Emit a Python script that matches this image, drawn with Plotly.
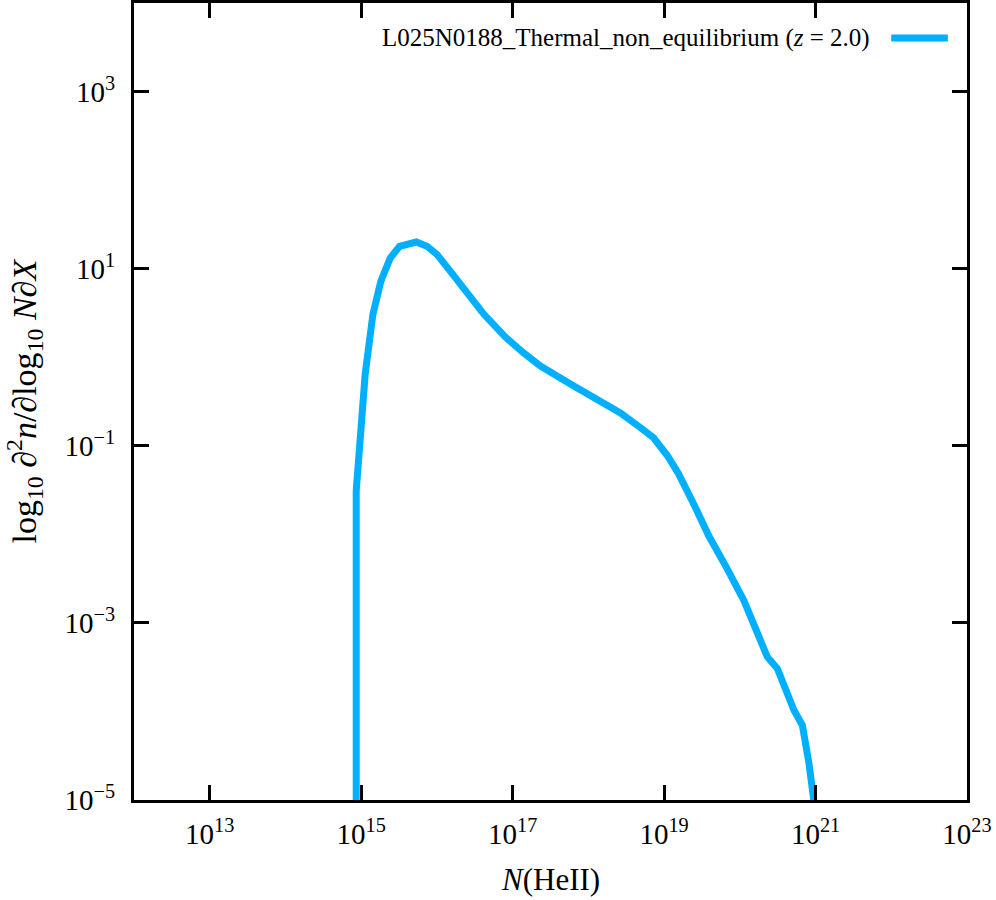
import plotly.graph_objects as go

# Column density N(HeII) [cm^-2]
N_HeII = [8.6e14, 8.6e14, 1.13e15, 1.43e15, 1.82e15, 2.42e15, 3.21e15, 5.35e15,
          7.40e15, 1.00e16, 1.50e16, 2.76e16, 4.15e16, 5.08e16, 8.02e16, 1.39e17,
          2.33e17, 5.79e17, 1.58e18, 2.65e18, 4.89e18, 7.26e18, 1.11e19, 1.55e19,
          2.45e19, 3.87e19, 6.82e19, 1.13e20, 2.31e20, 3.13e20, 5.19e20, 6.70e20,
          8.18e20, 9.55e20]
# Column density distribution function
cddf = [1e-8, 3.11e-2, 0.647, 3.07, 7.23, 13.2, 17.9, 20.0,
        17.9, 14.5, 9.38, 4.69, 3.07, 2.56, 1.69, 1.12,
        0.796, 0.50, 0.297, 0.235, 0.160, 0.123, 0.0771, 0.0484,
        0.0222, 9.68e-3, 4.08e-3, 1.79e-3, 4.12e-4, 3.05e-4, 1.03e-4, 7.0e-5,
        2.6e-5, 9.5e-6]

series_name = "L025N0188_Thermal_non_equilibrium (<i>z</i> = 2.0)"
x_title = "<i>N</i>(HeII)"
y_title = "log<sub>10</sub> \u2202<sup>2</sup><i>n</i>/\u2202log<sub>10</sub> <i>N</i>\u2202<i>X</i>"
x_tickvals = [1e13, 1e15, 1e17, 1e19, 1e21, 1e23]
x_ticktext = ["10<sup>13</sup>", "10<sup>15</sup>", "10<sup>17</sup>",
              "10<sup>19</sup>", "10<sup>21</sup>", "10<sup>23</sup>"]
y_tickvals = [1e-5, 1e-3, 1e-1, 1e1, 1e3]
y_ticktext = ["10<sup>\u22125</sup>", "10<sup>\u22123</sup>", "10<sup>\u22121</sup>",
              "10<sup>1</sup>", "10<sup>3</sup>"]

color = "#00b0ff"
font = "Liberation Serif"

fig = go.Figure()
fig.add_trace(go.Scatter(x=N_HeII, y=cddf, mode="lines",
                         line=dict(color=color, width=7),
                         name=series_name, showlegend=False))

axis_common = dict(type="log", showgrid=False, zeroline=False,
                   showline=True, linecolor="black", linewidth=3,
                   mirror="allticks", ticks="inside", ticklen=15, tickwidth=2.5,
                   tickcolor="black", automargin=False,
                   tickfont=dict(family=font, size=29, color="black"))

fig.update_xaxes(**axis_common, range=[12, 23], tickvals=x_tickvals, ticktext=x_ticktext,
                 ticklabelstandoff=6)
fig.update_yaxes(**axis_common, range=[-5, 4], tickvals=y_tickvals, ticktext=y_ticktext,
                 ticklabelstandoff=10)

# axis titles
fig.add_annotation(xref="paper", yref="paper", x=0.5, y=-0.1, xanchor="center",
                   yanchor="middle", text=x_title, showarrow=False,
                   font=dict(family=font, size=31, color="black"))
fig.add_annotation(xref="paper", yref="paper", x=-0.132, y=0.5, xanchor="center",
                   yanchor="middle", text=y_title, showarrow=False, textangle=-90,
                   font=dict(family=font, size=34, color="black"))

# legend drawn as text + line sample in the upper right
fig.add_annotation(xref="paper", yref="paper", x=0.886, y=0.956, xanchor="right",
                   yanchor="middle", text=series_name, showarrow=False,
                   font=dict(family=font, size=25, color="black"))
fig.add_shape(type="line", xref="paper", yref="paper", x0=0.909, x1=0.977,
              y0=0.956, y1=0.956, line=dict(color=color, width=7))

fig.update_layout(width=996, height=900, plot_bgcolor="white", paper_bgcolor="white",
                  margin=dict(l=134, r=29, t=3, b=100, autoexpand=False), showlegend=False)

fig.write_html("out.html", config={"displayModeBar": False},
               post_script="document.body.style.margin='0px';")
